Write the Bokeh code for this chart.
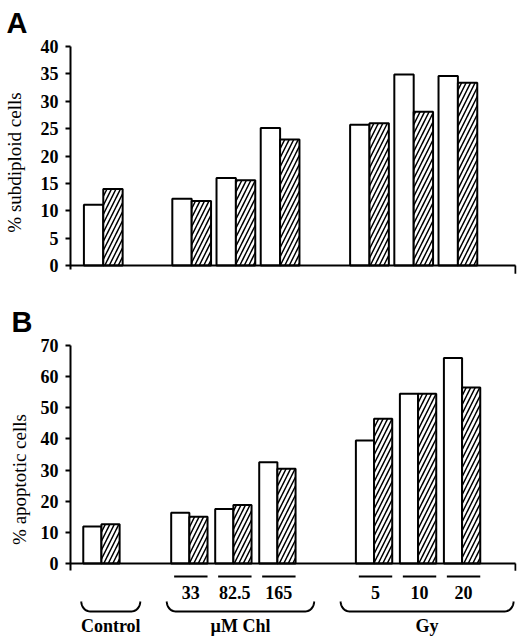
import numpy as np
from bokeh.plotting import figure
from bokeh.layouts import column
from bokeh.models import Range1d, FixedTicker, ColumnDataSource
from bokeh.core.properties import value
from bokeh.embed import file_html
from bokeh.resources import INLINE

groups = ["Control", "µM Chl", "Gy"]
doses = ["", "33", "82.5", "165", "5", "10", "20"]

subdiploid_open = [11.1, 12.2, 16.0, 25.1, 25.7, 34.9, 34.6]
subdiploid_hatched = [14.0, 11.8, 15.6, 23.0, 26.0, 28.1, 33.4]
apoptotic_open = [11.9, 16.3, 17.5, 32.5, 39.5, 54.5, 66.0]
apoptotic_hatched = [12.6, 15.0, 18.8, 30.4, 46.5, 54.5, 56.5]

a_ticks = list(range(0, 41, 5))
b_ticks = list(range(0, 71, 10))

SERIF = "Liberation Serif"


def centers(first, chl, gy, step):
    # x position of each pair of bars (control, 3 x Chl, 3 x Gy)
    return np.array([first] + [chl + i * step for i in range(3)] + [gy + i * step for i in range(3)])


def clean(p):
    p.xgrid.visible = False
    p.ygrid.visible = False
    p.outline_line_color = None
    p.background_fill_color = "white"


def style(p, ticks, ylabel, label_standoff):
    clean(p)
    ax = p.yaxis[0]
    ax.ticker = FixedTicker(ticks=ticks)
    ax.axis_line_width = 2
    ax.major_tick_line_width = 2
    ax.major_tick_in = 0
    ax.major_tick_out = 5
    ax.major_label_standoff = 7
    ax.major_label_text_font = SERIF
    ax.major_label_text_font_style = "bold"
    ax.major_label_text_font_size = "18px"
    ax.major_label_text_color = "black"
    ax.axis_line_color = "black"
    ax.axis_label = ylabel
    ax.axis_label_text_font = SERIF
    ax.axis_label_text_font_style = "normal"
    ax.axis_label_text_font_size = "19px"
    ax.axis_label_text_color = "black"
    ax.axis_label_standoff = label_standoff


def panel_letter(p, letter, valign, standoff):
    p.title.text = letter
    p.title.align = "left"
    p.title.offset = 3 - p.min_border_left
    p.title.vertical_align = valign
    p.title.standoff = standoff
    p.title.text_font = "Liberation Sans"
    p.title.text_font_style = "bold"
    p.title.text_font_size = "29px"
    p.title.text_color = "black"


def bars(p, xc, bw, open_vals, hatched_vals):
    src = ColumnDataSource(dict(xo=xc - bw / 2, xh=xc + bw / 2, o=open_vals, h=hatched_vals))
    p.vbar(x="xo", top="o", bottom=0, width=bw, source=src,
           fill_color="white", line_color="black", line_width=2)
    p.vbar(x="xh", top="h", bottom=0, width=bw, source=src,
           fill_color="white", line_color="black", line_width=2,
           hatch_pattern="/", hatch_color="black", hatch_weight=1.5, hatch_scale=9)


def baseline(p, x_end, tick_len):
    # x axis line at zero with the small closing tick at its right end
    p.segment(x0=[0, x_end], x1=[x_end, x_end], y0=[0, 0], y1=[0, -tick_len],
              line_color="black", line_width=2)


# ---- panel A
pa = figure(width=520, height=278, x_range=Range1d(0, 449), y_range=Range1d(-2.36, 40),
            output_backend="svg", toolbar_location=None, x_axis_location=None,
            min_border_left=67, min_border_right=4, min_border_top=45, min_border_bottom=0)
style(pa, a_ticks, "% subdiploid cells", 13)
panel_letter(pa, "A", "top", 12)
pa.yaxis[0].bounds = (-0.8, 40)

bars(pa, centers(33, 122, 301, 44.5), 19.5, subdiploid_open, subdiploid_hatched)
baseline(pa, 448, 1.5)

# ---- panel B
pb = figure(width=520, height=335, x_range=Range1d(0, 454), y_range=Range1d(-16.06, 70),
            output_backend="svg", toolbar_location=None, x_axis_location=None,
            min_border_left=62, min_border_right=4, min_border_top=67, min_border_bottom=0)
style(pb, b_ticks, "% apoptotic cells", 8)
panel_letter(pb, "B", "bottom", 16)
pb.yaxis[0].bounds = (-2.2, 70)

xb = centers(31.5, 121, 309, 44.8)
bars(pb, xb, 18.5, apoptotic_open, apoptotic_hatched)
baseline(pb, 453, 2.3)

# dose bars and labels
dx = xb[1:] + 1.5
pb.segment(x0=dx - 17, x1=dx + 17, y0=-4.2, y1=-4.2, line_color="black", line_width=2)
pb.text(x=dx, y=[-9.3] * len(dx), text=doses[1:], text_align="center", text_baseline="middle",
        text_font=value(SERIF), text_font_style="bold", text_font_size="18px", text_color="black")

# group braces
brace_spans = [(11, 71), (98, 248), (275, 451)]
top, bot, rx = -12.2, -15.4, 9
t = np.linspace(0, np.pi / 2, 12)
bxs, bys = [], []
for x0, x1 in brace_spans:
    lx = x0 + rx - rx * np.cos(t)
    ly = top - (top - bot) * np.sin(t)
    rxs = x1 - rx + rx * np.cos(t[::-1])
    bxs.append(list(lx) + list(rxs))
    bys.append(list(ly) + list(ly[::-1]))
pb.multi_line(xs=bxs, ys=bys, line_color="black", line_width=2)

# ---- group names under the braces
pc = figure(width=520, height=27, x_range=pb.x_range, y_range=Range1d(0, 27),
            output_backend="svg", toolbar_location=None, x_axis_location=None, y_axis_location=None,
            min_border_left=62, min_border_right=4, min_border_top=0, min_border_bottom=0)
clean(pc)
gx = [(a + b) / 2 for a, b in brace_spans]
pc.text(x=gx, y=[15] * 3, text=groups, text_align="center", text_baseline="middle",
        text_font=value(SERIF), text_font_style="bold", text_font_size="18px", text_color="black")

page = column(pa, pb, pc, spacing=0)
open("out.html", "w").write(file_html(page, INLINE))
